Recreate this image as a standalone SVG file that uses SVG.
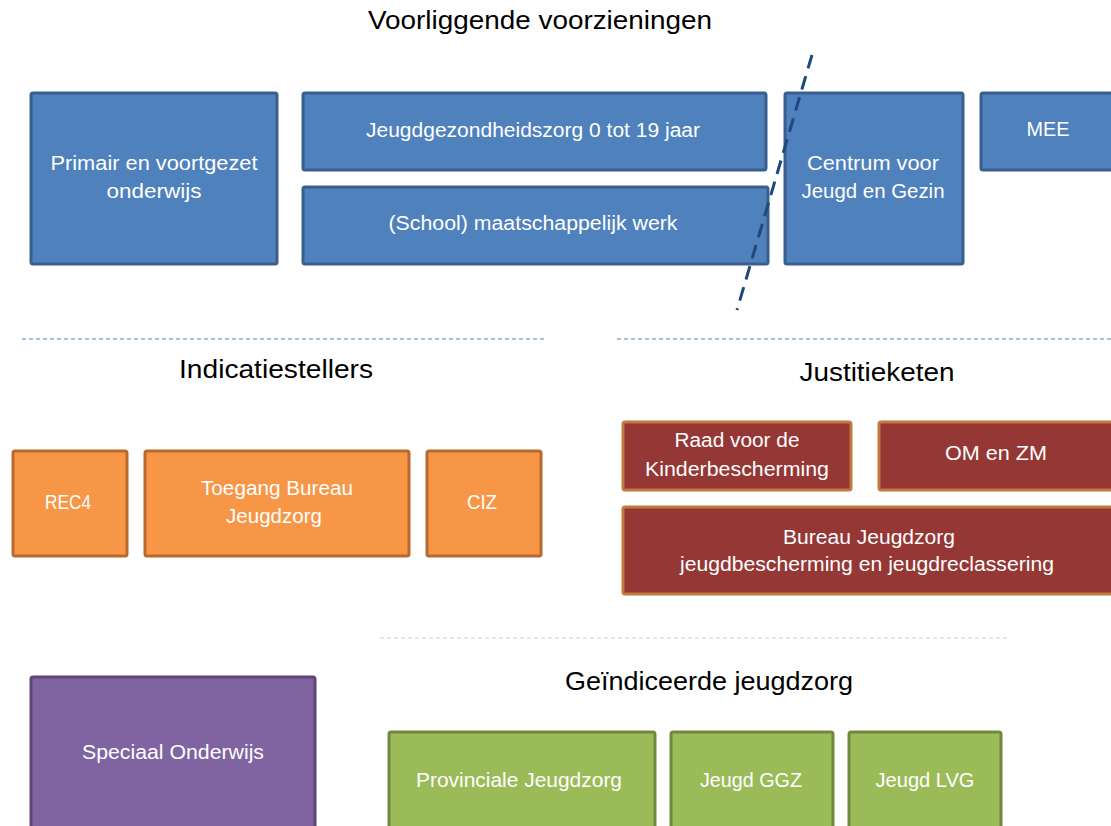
<svg xmlns="http://www.w3.org/2000/svg" width="1111" height="826" viewBox="0 0 1111 826">
<style>
text{font-family:"Liberation Sans",Arial,sans-serif;text-anchor:middle}
.h{font-size:26px;fill:#000}
.l{font-size:20px;fill:#fff}
.blue{fill:#4f81bd;stroke:#3a5f8d;stroke-width:3}
.orange{fill:#f79646;stroke:#b8692e;stroke-width:3}
.red{fill:#953735;stroke:#c27a3e;stroke-width:3}
.purple{fill:#8064a2;stroke:#5c4776;stroke-width:3}
.green{fill:#9bbb59;stroke:#71893f;stroke-width:3}
.sep{stroke:#4f81bd;stroke-width:1.2;stroke-dasharray:4 3;fill:none}
</style>
<rect width="1111" height="826" fill="#fff"/>
<text class="h" x="540" y="29" textLength="344" lengthAdjust="spacingAndGlyphs">Voorliggende voorzieningen</text>
<text class="h" x="276" y="378" textLength="194" lengthAdjust="spacingAndGlyphs">Indicatiestellers</text>
<text class="h" x="877" y="381" textLength="155" lengthAdjust="spacingAndGlyphs">Justitieketen</text>
<text class="h" x="709" y="690" textLength="288" lengthAdjust="spacingAndGlyphs">Geïndiceerde jeugdzorg</text>

<g id="n-primair"><rect class="blue" x="31" y="93" width="246" height="171" rx="2"/>
<text class="l" x="154" y="170" textLength="207" lengthAdjust="spacingAndGlyphs">Primair en voortgezet</text>
<text class="l" x="154" y="198" textLength="95" lengthAdjust="spacingAndGlyphs">onderwijs</text></g>
<g id="n-jgz"><rect class="blue" x="303" y="93" width="463" height="77" rx="2"/>
<text class="l" x="533" y="137" textLength="334" lengthAdjust="spacingAndGlyphs">Jeugdgezondheidszorg 0 tot 19 jaar</text></g>
<g id="n-amw"><rect class="blue" x="303" y="187" width="465" height="77" rx="2"/>
<text class="l" x="533" y="230" textLength="289" lengthAdjust="spacingAndGlyphs">(School) maatschappelijk werk</text></g>
<g id="n-cjg"><rect class="blue" x="785" y="93" width="178" height="171" rx="2"/>
<text class="l" x="873" y="170" textLength="132" lengthAdjust="spacingAndGlyphs">Centrum voor</text>
<text class="l" x="873" y="198" textLength="143" lengthAdjust="spacingAndGlyphs">Jeugd en Gezin</text></g>
<g id="n-mee"><rect class="blue" x="981" y="93" width="140" height="77" rx="2"/>
<text class="l" x="1048" y="136" textLength="43" lengthAdjust="spacingAndGlyphs">MEE</text></g>

<g id="n-rec4"><rect class="orange" x="13" y="451" width="114" height="105" rx="2"/>
<text class="l" x="68" y="509" textLength="46" lengthAdjust="spacingAndGlyphs">REC4</text></g>
<g id="n-bjz"><rect class="orange" x="145" y="451" width="264" height="105" rx="2"/>
<text class="l" x="277" y="495" textLength="152" lengthAdjust="spacingAndGlyphs">Toegang Bureau</text>
<text class="l" x="274" y="523" textLength="96" lengthAdjust="spacingAndGlyphs">Jeugdzorg</text></g>
<g id="n-ciz"><rect class="orange" x="427" y="451" width="114" height="105" rx="2"/>
<text class="l" x="482" y="509" textLength="30" lengthAdjust="spacingAndGlyphs">CIZ</text></g>

<g id="n-raad"><rect class="red" x="623" y="422" width="228" height="68" rx="2"/>
<text class="l" x="737" y="447" textLength="125" lengthAdjust="spacingAndGlyphs">Raad voor de</text>
<text class="l" x="737" y="476" textLength="184" lengthAdjust="spacingAndGlyphs">Kinderbescherming</text></g>
<g id="n-om"><rect class="red" x="879" y="422" width="240" height="68" rx="2"/>
<text class="l" x="996" y="460" textLength="102" lengthAdjust="spacingAndGlyphs">OM en ZM</text></g>
<g id="n-bjzj"><rect class="red" x="623" y="507" width="496" height="87" rx="2"/>
<text class="l" x="869" y="544" textLength="172" lengthAdjust="spacingAndGlyphs">Bureau Jeugdzorg</text>
<text class="l" x="867" y="571" textLength="374" lengthAdjust="spacingAndGlyphs">jeugdbescherming en jeugdreclassering</text></g>

<g id="n-so"><rect class="purple" x="31" y="677" width="284" height="160" rx="2"/>
<text class="l" x="173" y="759" textLength="182" lengthAdjust="spacingAndGlyphs">Speciaal Onderwijs</text></g>
<g id="n-pj"><rect class="green" x="389" y="732" width="266" height="105" rx="2"/>
<text class="l" x="519" y="787" textLength="206" lengthAdjust="spacingAndGlyphs">Provinciale Jeugdzorg</text></g>
<g id="n-ggz"><rect class="green" x="671" y="732" width="162" height="105" rx="2"/>
<text class="l" x="751" y="787" textLength="102" lengthAdjust="spacingAndGlyphs">Jeugd GGZ</text></g>
<g id="n-lvg"><rect class="green" x="849" y="732" width="152" height="105" rx="2"/>
<text class="l" x="925" y="787" textLength="99" lengthAdjust="spacingAndGlyphs">Jeugd LVG</text></g>

<g id="connectors">
<line class="sep" x1="22" y1="339" x2="546" y2="339"/>
<line class="sep" x1="617" y1="339" x2="1111" y2="339"/>
<line x1="380" y1="638" x2="1008" y2="638" stroke="#c5cedb" stroke-width="1" stroke-dasharray="4 3"/>
<line x1="812" y1="55" x2="737" y2="310" stroke="#1f497d" stroke-width="3" stroke-dasharray="14 8"/>
</g>
</svg>
